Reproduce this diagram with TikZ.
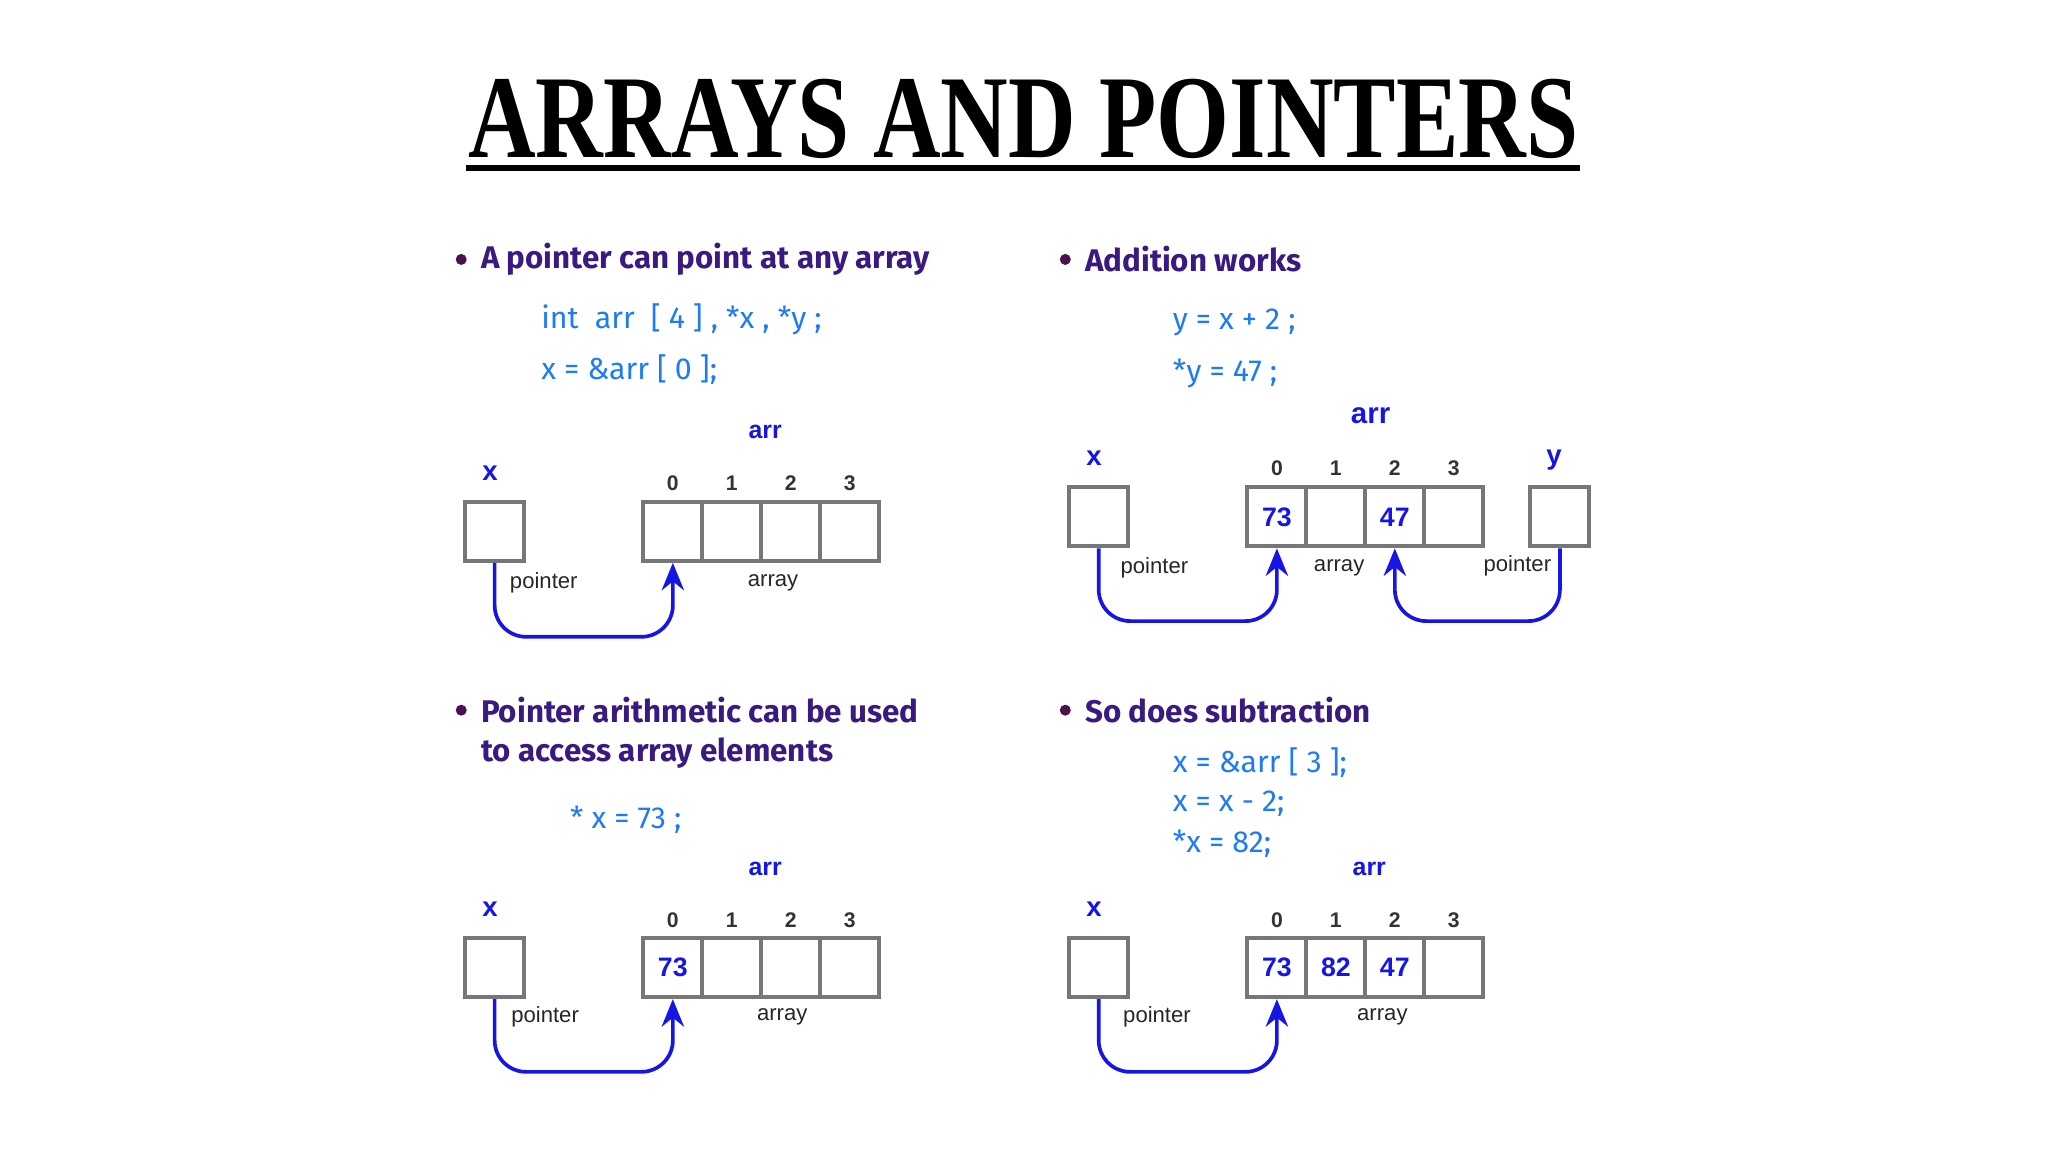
\documentclass[tikz,border=0pt]{standalone}
\usepackage{fontspec}
\setmainfont{Liberation Serif}
\newfontfamily\bulfont{Fira Sans}
\newfontfamily\arialf{Liberation Sans}
\usetikzlibrary{arrows.meta}
\definecolor{purp}{HTML}{3A1A80}
\definecolor{dotc}{HTML}{4A1050}
\definecolor{codeb}{HTML}{1F7BF5}
\definecolor{labb}{HTML}{1515E6}
\definecolor{digg}{HTML}{333333}
\definecolor{boxg}{HTML}{777777}
\tikzset{
 bul/.style={anchor=west,text=purp,font=\bulfont\bfseries\fontsize{34}{38}\selectfont,inner sep=0},
 dotn/.style={circle,fill=dotc,minimum size=0.42cm,inner sep=0},
 code/.style={anchor=west,text=codeb,font=\bulfont\fontsize{33}{38}\selectfont,inner sep=0},
 lab/.style={text=labb,font=\arialf\bfseries\fontsize{30}{34}\selectfont,inner sep=0},
 arrn/.style={text=labb,font=\arialf\bfseries\fontsize{27}{32}\selectfont,inner sep=0},
 dig/.style={text=digg,font=\arialf\bfseries\fontsize{23}{26}\selectfont,inner sep=0},
 small/.style={text=black!85,font=\arialf\fontsize{24}{28}\selectfont,inner sep=0},
 cell/.style={draw=boxg,line width=0.15cm,minimum width=2.25cm,minimum height=2.25cm,inner sep=0,
   text=labb,font=\arialf\bfseries\fontsize{29}{34}\selectfont},
 ptr/.style={draw=labb,line width=0.14cm,rounded corners=1.2cm,-{Stealth[length=1.05cm,width=0.85cm]}},
}
\begin{document}
\begin{tikzpicture}[x=0.05cm,y=-0.05cm]
\useasboundingbox (0,0) rectangle (1563,879);
% title
\node[inner sep=0,anchor=base] (title) at (781,120) {\resizebox{1205pt}{85pt}{\bfseries ARRAYS AND POINTERS}};
\draw[line width=0.22cm] (356,128) -- (1206,128);

% ---------- panel 1
\node[dotn] (d1) at (352,198) {};
\node[bul] (b1) at (367,198) {A pointer can point at any array};
\node[code] (c11) at (413,244) {int\ \ arr\ \ [ 4 ] , *x , *y ;};
\node[code] (c12) at (413,282) {x = \&arr [ 0 ];};
\node[arrn] (arr1) at (584,330) {arr};
\node[lab] (xl1) at (374,361) {x};
\node[cell] (xb1) at (377.5,405.5) {};
\foreach \i/\v in {0/,1/,2/,3/}{
  \node[cell] (a1\i) at ({513.5+45*\i},405.5) {\v};
  \node[dig] (i1\i) at ({513.5+45*\i},369) {\i};}
\node[small] (p1) at (415,445) {pointer};
\node[small] (ar1) at (590,445) {array};
\coordinate (m1) at (445,486);
\draw[ptr] (xb1.south) |- (m1) -| (a10.south);

% ---------- panel 2
\node[dotn] (d2) at (813,198) {};
\node[bul] (b2) at (828,198) {Addition works};
\node[code] (c21) at (895,246) {y = x + 2 ;};
\node[code] (c22) at (895,285) {*y = 47 ;};
\node[arrn,font=\arialf\bfseries\fontsize{32}{36}\selectfont] (arr2) at (1046,317) {arr};
\node[lab] (xl2) at (835,350) {x};
\node[lab] (yl2) at (1186,351) {y};
\node[cell] (xb2) at (838.5,394.5) {};
\node[cell] (yb2) at (1190.5,394.5) {};
\foreach \i/\v in {0/73,1/,2/47,3/}{
  \node[cell] (a2\i) at ({974.5+45*\i},394.5) {\v};
  \node[dig] (i2\i) at ({974.5+45*\i},357) {\i};}
\node[small] (p2) at (881,433) {pointer};
\node[small] (ar2) at (1022,433) {array};
\node[small] (p2b) at (1158,432) {pointer};
\coordinate (m2) at (905,474);
\coordinate (m2b) at (1130,474);
\draw[ptr] (xb2.south) |- (m2) -| (a20.south);
\draw[ptr] (yb2.south) |- (m2b) -| (a22.south);

% ---------- panel 3
\node[dotn] (d3) at (352,542) {};
\node[bul] (b3) at (367,542) {Pointer arithmetic can be used};
\node[bul] (b3b) at (367,575) {to access array elements};
\node[code] (c31) at (435,626) {* x = 73 ;};
\node[arrn] (arr3) at (584,663) {arr};
\node[lab] (xl3) at (374,694) {x};
\node[cell] (xb3) at (377.5,738.5) {};
\foreach \i/\v in {0/73,1/,2/,3/}{
  \node[cell] (a3\i) at ({513.5+45*\i},738.5) {\v};
  \node[dig] (i3\i) at ({513.5+45*\i},702) {\i};}
\node[small] (p3) at (416,776) {pointer};
\node[small] (ar3) at (597,776) {array};
\coordinate (m3) at (445,818);
\draw[ptr] (xb3.south) |- (m3) -| (a30.south);

% ---------- panel 4
\node[dotn] (d4) at (813,542) {};
\node[bul] (b4) at (828,542) {So does subtraction};
\node[code] (c41) at (895,582) {x = \&arr [ 3 ];};
\node[code] (c42) at (895,613) {x = x - 2;};
\node[code] (c43) at (895,644) {*x = 82;};
\node[arrn] (arr4) at (1045,663) {arr};
\node[lab] (xl4) at (835,694) {x};
\node[cell] (xb4) at (838.5,738.5) {};
\foreach \i/\v in {0/73,1/82,2/47,3/}{
  \node[cell] (a4\i) at ({974.5+45*\i},738.5) {\v};
  \node[dig] (i4\i) at ({974.5+45*\i},702) {\i};}
\node[small] (p4) at (883,776) {pointer};
\node[small] (ar4) at (1055,776) {array};
\coordinate (m4) at (905,818);
\draw[ptr] (xb4.south) |- (m4) -| (a40.south);
\end{tikzpicture}
\end{document}
